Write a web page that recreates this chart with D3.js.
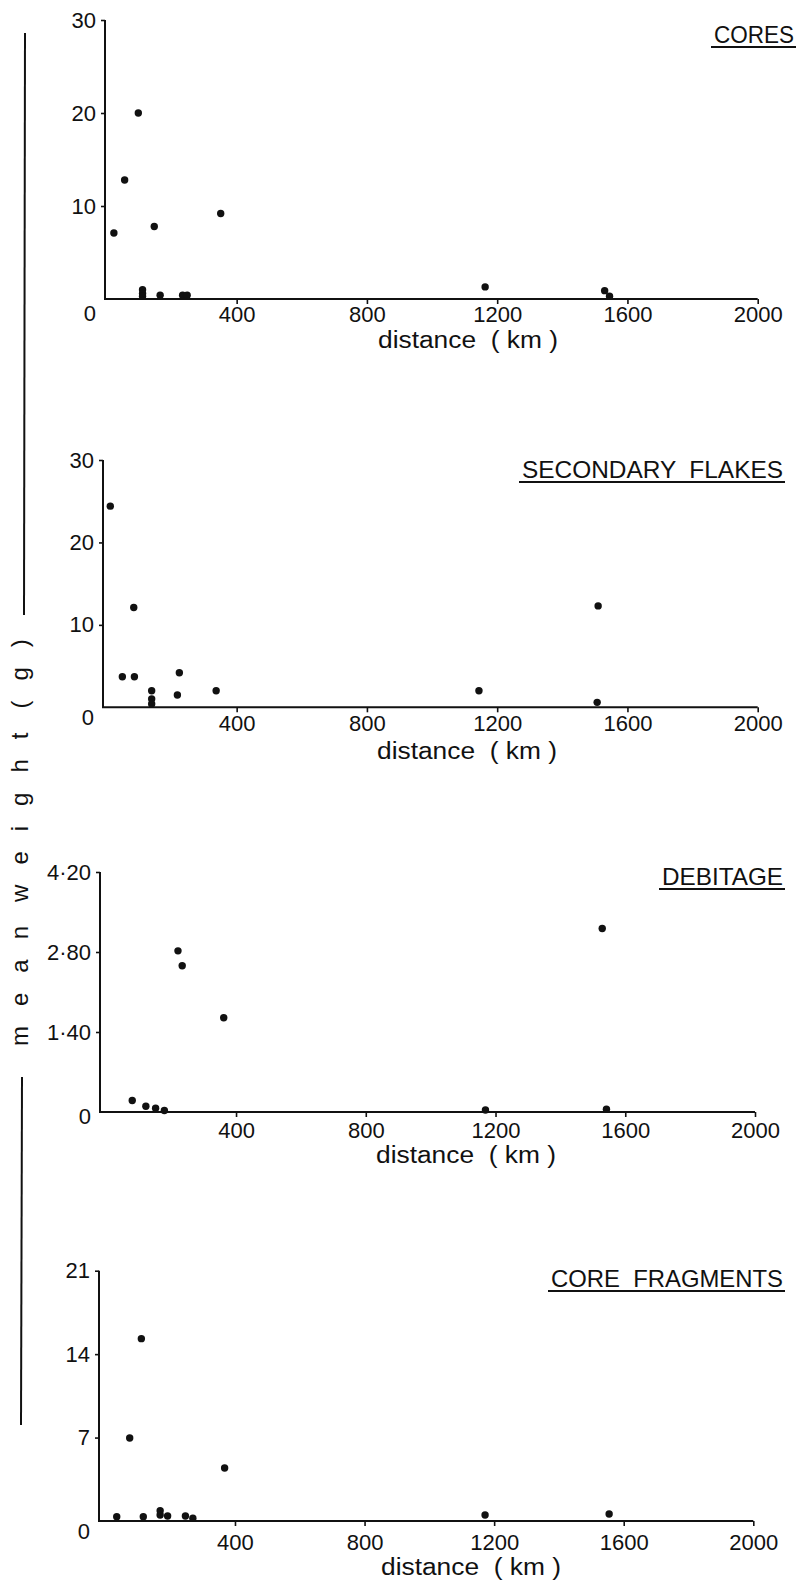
<!DOCTYPE html>
<html>
<head>
<meta charset="utf-8">
<script src="https://cdn.jsdelivr.net/npm/d3@7"></script>
<style>
  html, body { margin: 0; padding: 0; background: #fff; }
  svg { display: block; }
  text { font-family: "Liberation Sans", Arial, sans-serif; fill: #111; }
</style>
</head>
<body>
<svg id="chart" width="800" height="1581"></svg>
<script>
// ---- data ----
const panelTitles = ["CORES", "SECONDARY  FLAKES", "DEBITAGE", "CORE  FRAGMENTS"];
const xTickValues = [400, 800, 1200, 1600, 2000];
const yTickValues = [
  [0, 10, 20, 30],
  [0, 10, 20, 30],
  [0, 1.4, 2.8, 4.2],
  [0, 7, 14, 21]
];
const yMaxValues = [30, 30, 4.2, 21];
const axisTitleX = "distance  ( km )";
const axisTitleY = ["mean", "weight", "(g)"];

const coresDistance = [23, 56, 98, 147, 351, 111, 111, 111, 165, 234, 248, 1163, 1530, 1545];
const coresWeight   = [7.1, 12.8, 20.0, 7.8, 9.2, 1.0, 0.6, 0.3, 0.4, 0.4, 0.4, 1.3, 0.9, 0.3];

const secondaryDistance = [12, 84, 49, 86, 139, 139, 139, 224, 218, 337, 1144, 1510, 1507];
const secondaryWeight   = [24.4, 12.1, 3.7, 3.7, 2.0, 1.0, 0.4, 4.2, 1.5, 2.0, 2.0, 12.3, 0.6];

const debitageDistance = [221, 234, 362, 80, 122, 152, 179, 1169, 1542, 1529];
const debitageWeight   = [2.82, 2.56, 1.65, 0.20, 0.10, 0.065, 0.025, 0.035, 0.047, 3.21];

const fragmentsDistance = [111, 75, 368, 35, 117, 169, 169, 192, 247, 270, 1172, 1555];
const fragmentsWeight   = [15.3, 6.96, 4.45, 0.36, 0.36, 0.86, 0.5, 0.42, 0.42, 0.23, 0.5, 0.59];

const series = [
  [coresDistance, coresWeight],
  [secondaryDistance, secondaryWeight],
  [debitageDistance, debitageWeight],
  [fragmentsDistance, fragmentsWeight]
];

// ---- layout of the four stacked panels ----
const layout = [
  { axisX: 105, x0: 106.4, x1: 757.7, y0: 299,    y1: 20,    xPad: 2,  zeroDy: 14,
    titleRight: 794, titleBase: 43,   titleWidth: 80,  labelX: 378, labelBase: 348 },
  { axisX: 103, x0: 106.4, x1: 757.7, y0: 707.3,  y1: 460,   xPad: 3,  zeroDy: 10,
    titleRight: 783, titleBase: 478,  titleWidth: 261, labelX: 377, labelBase: 759 },
  { axisX: 100, x0: 106.3, x1: 755,   y0: 1112,   y1: 872,   xPad: 5,  zeroDy: 4,
    titleRight: 783, titleBase: 885,  titleWidth: 121, labelX: 376, labelBase: 1163 },
  { axisX: 99,  x0: 105.4, x1: 753.3, y0: 1521,   y1: 1270.7, xPad: 8, zeroDy: 10,
    titleRight: 783, titleBase: 1287, titleWidth: 232, labelX: 381, labelBase: 1575 }
];

const svg = d3.select("#chart");
const ink = "#111";
const tickFont = "22px";

const fmtTick = (panel) => (v) => {
  if (v === 0) return "0";
  if (panel === 2) return d3.format(".2f")(v).replace(".", "\u00B7");
  return String(v);
};

layout.forEach((L, i) => {
  const g = svg.append("g");
  const x = d3.scaleLinear().domain([0, 2000]).range([L.x0, L.x1]);
  const y = d3.scaleLinear().domain([0, yMaxValues[i]]).range([L.y0, L.y1]);

  // axis lines
  g.append("line")
    .attr("x1", L.axisX).attr("x2", L.axisX)
    .attr("y1", L.y0).attr("y2", y(yMaxValues[i]))
    .attr("stroke", ink).attr("stroke-width", 2);
  g.append("line")
    .attr("x1", L.axisX - 1).attr("x2", x(2000))
    .attr("y1", L.y0).attr("y2", L.y0)
    .attr("stroke", ink).attr("stroke-width", 2);

  // bottom axis: ticks and labels
  const xAxis = g.append("g")
    .attr("transform", `translate(0,${L.y0})`)
    .call(d3.axisBottom(x).tickValues(xTickValues).tickFormat(d => String(d))
      .tickSize(5).tickPadding(L.xPad).tickSizeOuter(0));
  xAxis.select(".domain").remove();
  xAxis.selectAll(".tick line").attr("stroke", ink).attr("stroke-width", 1.6);
  xAxis.selectAll(".tick text")
    .attr("fill", ink).style("font-size", tickFont)
    .style("font-family", '"Liberation Sans", Arial, sans-serif');

  // left axis: ticks and labels
  const yAxis = g.append("g")
    .attr("transform", `translate(${L.axisX},0)`)
    .call(d3.axisLeft(y).tickValues(yTickValues[i]).tickFormat(fmtTick(i))
      .tickSize(4).tickPadding(5).tickSizeOuter(0));
  yAxis.select(".domain").remove();
  yAxis.selectAll(".tick line").attr("stroke", ink).attr("stroke-width", 1.6);
  yAxis.selectAll(".tick text")
    .attr("fill", ink).style("font-size", tickFont)
    .style("font-family", '"Liberation Sans", Arial, sans-serif');
  yAxis.selectAll(".tick").filter(d => d === 0).select("line").remove();
  yAxis.selectAll(".tick").filter(d => d === 0).select("text")
    .attr("y", L.zeroDy);

  // x axis title
  g.append("text")
    .attr("x", L.labelX).attr("y", L.labelBase)
    .attr("textLength", 180).attr("lengthAdjust", "spacingAndGlyphs")
    .style("font-size", "23px")
    .style("white-space", "pre")
    .text(axisTitleX);

  // panel title with underline
  const titleLeft = L.titleRight - L.titleWidth;
  g.append("text")
    .attr("x", titleLeft).attr("y", L.titleBase)
    .attr("textLength", L.titleWidth).attr("lengthAdjust", "spacingAndGlyphs")
    .style("font-size", "24px")
    .style("white-space", "pre")
    .text(panelTitles[i]);
  g.append("line")
    .attr("x1", titleLeft - 3).attr("x2", L.titleRight + 2)
    .attr("y1", L.titleBase + 4).attr("y2", L.titleBase + 4)
    .attr("stroke", ink).attr("stroke-width", 1.8);

  // points
  const [dist, wt] = series[i];
  g.selectAll("circle.pt")
    .data(d3.range(dist.length))
    .join("circle")
    .attr("class", "pt")
    .attr("cx", k => x(dist[k]))
    .attr("cy", k => y(wt[k]))
    .attr("r", 3.7)
    .attr("fill", ink);
});

// shared vertical title with rules above and below
svg.append("line")
  .attr("x1", 25).attr("x2", 24).attr("y1", 33).attr("y2", 615)
  .attr("stroke", ink).attr("stroke-width", 2);
svg.append("line")
  .attr("x1", 22).attr("x2", 21).attr("y1", 1077).attr("y2", 1425)
  .attr("stroke", ink).attr("stroke-width", 2);

const yTitle = svg.append("text")
  .attr("transform", "translate(28,1046) rotate(-90)")
  .style("font-size", "24px")
  .style("letter-spacing", "20px");
axisTitleY.forEach((w, k) => {
  yTitle.append("tspan").attr("dx", k === 0 ? 0 : 4).text(w);
});
</script>
</body>
</html>
